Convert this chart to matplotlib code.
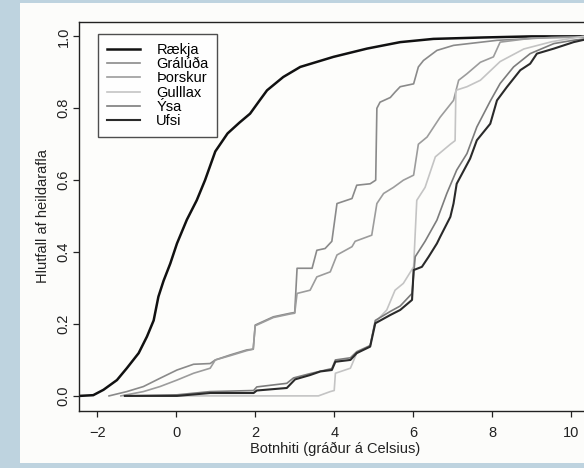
import matplotlib
matplotlib.use("Agg")
import matplotlib.pyplot as plt
from matplotlib.patches import Rectangle

plt.rcParams['font.family'] = ['Liberation Sans', 'DejaVu Sans']

# traced curves (botnhiti, hlutfall)
raekja_x = [-2.45, -2.1, -1.84, -1.5, -1.25, -0.95, -0.74, -0.57, -0.45, -0.32, -0.15, 0.02, 0.27,
            0.52, 0.73, 0.99, 1.3, 1.6, 1.87, 2.1, 2.3, 2.71, 3.14, 3.98, 4.83, 5.67, 6.51, 7.78, 9.0, 11.0]
raekja_y = [0.0, 0.002, 0.017, 0.044, 0.077, 0.119, 0.165, 0.21, 0.276, 0.32, 0.368, 0.424, 0.49,
            0.544, 0.6, 0.68, 0.73, 0.76, 0.785, 0.82, 0.85, 0.887, 0.915, 0.943, 0.966, 0.984, 0.993, 0.997, 1.0, 1.0]

gralu_x = [-1.7, -1.25, -0.83, -0.41, 0.02, 0.44, 0.86, 0.99, 1.37, 1.79, 1.95, 2.0, 2.46, 2.89, 3.0, 3.06,
           3.44, 3.56, 3.77, 3.94, 4.07, 4.45, 4.57, 4.91, 5.05, 5.08, 5.16, 5.42, 5.54, 5.67, 6.01, 6.13,
           6.26, 6.6, 7.02, 8.12, 9.5, 11.0]
gralu_y = [0.0, 0.012, 0.026, 0.049, 0.072, 0.088, 0.09, 0.1, 0.114, 0.128, 0.13, 0.197, 0.22, 0.23, 0.232, 0.355,
           0.355, 0.405, 0.41, 0.43, 0.535, 0.549, 0.586, 0.59, 0.6, 0.80, 0.817, 0.83, 0.845, 0.86, 0.868, 0.915,
           0.933, 0.961, 0.975, 0.989, 0.997, 1.0]

thorsk_x = [-1.4, -0.83, -0.41, 0.02, 0.44, 0.86, 0.99, 1.37, 1.79, 1.95, 2.0, 2.46, 2.89, 3.0, 3.06, 3.39,
            3.56, 3.9, 4.07, 4.45, 4.53, 4.95, 5.08, 5.25, 5.5, 5.75, 6.01, 6.13, 6.35, 6.68, 7.02, 7.15,
            7.36, 7.7, 8.03, 8.2, 9.0, 11.0]
thorsk_y = [0.0, 0.012, 0.026, 0.044, 0.063, 0.077, 0.1, 0.112, 0.126, 0.13, 0.195, 0.218, 0.228, 0.23, 0.285, 0.294,
            0.331, 0.345, 0.392, 0.415, 0.43, 0.447, 0.535, 0.563, 0.58, 0.6, 0.614, 0.70, 0.72, 0.775, 0.822, 0.878,
            0.896, 0.928, 0.943, 0.984, 0.995, 1.0]

gulllax_x = [-1.0, 3.6, 3.9, 4.0, 4.03, 4.41, 4.57, 4.91, 5.04, 5.33, 5.54, 5.75, 6.01, 6.09, 6.3, 6.56,
             6.94, 7.06, 7.08, 7.36, 7.7, 8.2, 8.8, 9.5, 10.3, 11.0]
gulllax_y = [0.0, 0.0, 0.012, 0.015, 0.063, 0.077, 0.119, 0.14, 0.205, 0.239, 0.294, 0.313, 0.359, 0.544, 0.58, 0.665,
             0.70, 0.71, 0.85, 0.86, 0.878, 0.93, 0.965, 0.985, 1.0, 1.0]

ysa_x = [-1.3, 0.02, 0.86, 1.96, 2.04, 2.8, 2.97, 3.39, 3.94, 4.03, 4.41, 4.57, 4.91, 5.04, 5.42, 5.67,
         5.97, 6.05, 6.3, 6.6, 6.85, 7.1, 7.36, 7.61, 7.95, 8.2, 8.54, 8.96, 9.56, 10.1, 11.0]
ysa_y = [0.0, 0.003, 0.012, 0.015, 0.025, 0.035, 0.05, 0.062, 0.076, 0.1, 0.106, 0.123, 0.14, 0.21, 0.235, 0.25,
         0.285, 0.387, 0.43, 0.489, 0.563, 0.628, 0.674, 0.748, 0.82, 0.869, 0.915, 0.952, 0.98, 0.99, 1.0]

ufsi_x = [-1.3, 0.02, 0.86, 1.96, 2.04, 2.8, 3.01, 3.39, 3.65, 3.94, 4.03, 4.41, 4.57, 4.91, 5.04, 5.42,
          5.67, 5.97, 6.01, 6.22, 6.39, 6.6, 6.68, 6.94, 7.02, 7.1, 7.44, 7.61, 7.95, 8.12, 8.37, 8.71,
          8.96, 9.13, 9.56, 10.06, 10.3, 11.0]
ufsi_y = [0.0, 0.0, 0.008, 0.008, 0.015, 0.022, 0.046, 0.058, 0.068, 0.072, 0.095, 0.1, 0.119, 0.137, 0.202, 0.225,
          0.239, 0.267, 0.35, 0.359, 0.387, 0.424, 0.442, 0.498, 0.535, 0.59, 0.66, 0.711, 0.757, 0.822, 0.859, 0.906,
          0.924, 0.952, 0.966, 0.984, 0.99, 1.0]

names = ['Rækja', 'Grálúða', 'Þorskur', 'Gulllax', 'Ýsa', 'Ufsi']
xs = [raekja_x, gralu_x, thorsk_x, gulllax_x, ysa_x, ufsi_x]
ys = [raekja_y, gralu_y, thorsk_y, gulllax_y, ysa_y, ufsi_y]
colors = ['#111111', '#8a8a8a', '#9c9c9c', '#c4c4c4', '#7c7c7c', '#2a2a2a']
widths = [1.8, 1.2, 1.2, 1.2, 1.2, 1.5]

fig = plt.figure(figsize=(5.84, 4.68), dpi=100)
fig.patch.set_facecolor('#bed3df')
# white paper area of the scan
paper = Rectangle((20 / 584, 1 - 463 / 468), 1, (463 - 3) / 468,
                  transform=fig.transFigure, facecolor='#fcfcfa', edgecolor='none', zorder=-10)
fig.patches.append(paper)

# plot region runs slightly past the right edge of the scan
ax = fig.add_axes([79 / 584, 1 - 411 / 468, 512 / 584, 389 / 468])
ax.set_zorder(5)
ax.set_facecolor('#fdfdfb')
for x, y, c, w, n in zip(xs, ys, colors, widths, names):
    ax.plot(x, y, color=c, lw=w, label=n)

ax.set_xlim(-2.46, 10.5)
ax.set_ylim(-0.042, 1.04)
ax.set_xticks([-2, 0, 2, 4, 6, 8, 10])
ax.set_yticks([0.0, 0.2, 0.4, 0.6, 0.8, 1.0])
ax.set_yticklabels(['0.0', '0.2', '0.4', '0.6', '0.8', '1.0'], rotation=90, va='center')
ax.tick_params(direction='out', length=4, width=0.9, labelsize=10.5, colors='#222222')
ax.tick_params(axis='x', pad=7)
ax.tick_params(axis='y', pad=2)
for s in ax.spines.values():
    s.set_linewidth(1.0)
    s.set_color('#222222')

ax.set_xlabel('Botnhiti (gráður á Celsius)', fontsize=10.5, labelpad=1, color='#222222')
ax.set_ylabel('Hlutfall af heildarafla', fontsize=10.5, labelpad=5, color='#222222')

leg = ax.legend(loc='upper left', bbox_to_anchor=(98 / 584, 1 - 34 / 468), bbox_transform=fig.transFigure,
                fontsize=10.5, frameon=True, fancybox=False, handlelength=2.3, handletextpad=1.1,
                labelspacing=0.02, borderpad=0.6, borderaxespad=0)
leg.get_frame().set_edgecolor('#222222')
leg.get_frame().set_linewidth(1.0)

fig.savefig('out.png', dpi=100, facecolor=fig.get_facecolor())
